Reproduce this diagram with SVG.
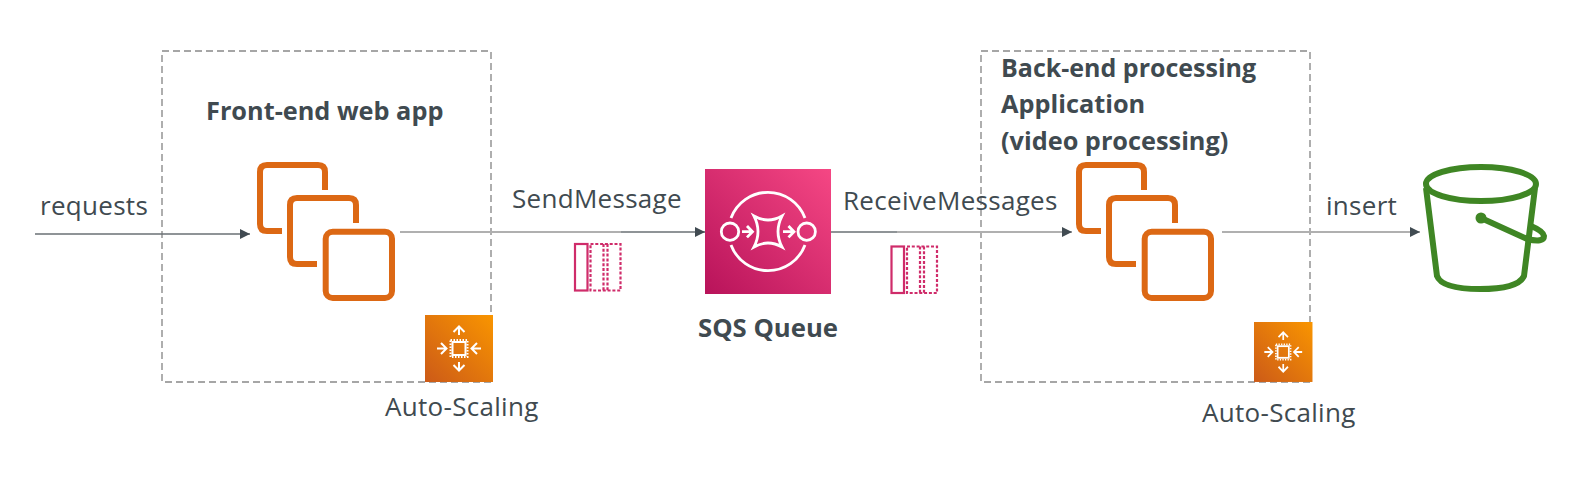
<svg xmlns="http://www.w3.org/2000/svg" width="1585" height="484" viewBox="0 0 1585 484">
<defs>
<linearGradient id="gp" x1="0" y1="1" x2="1" y2="0"><stop offset="0" stop-color="#b8135a"/><stop offset="1" stop-color="#f54784"/></linearGradient>
<linearGradient id="go" x1="0" y1="1" x2="1" y2="0"><stop offset="0" stop-color="#cc5a18"/><stop offset="1" stop-color="#f99500"/></linearGradient>
<marker id="arr" markerUnits="userSpaceOnUse" markerWidth="11" markerHeight="11" refX="10" refY="5" orient="auto"><path d="M0 0L10 5L0 10Z" fill="#414b52"/></marker>
<g id="inst" fill="none" stroke="#dc6814" stroke-width="6">
<path d="M325 190V172Q325 165 318 165H267Q260 165 260 172V224Q260 231 267 231H282"/>
<path d="M356 223V205Q356 198 349 198H297Q290 198 290 205V257Q290 264 297 264H317"/>
<rect x="325.700" y="231.700" width="66.300" height="66.300" rx="7"/>
</g>
<g id="as">
<rect x="0" y="0" width="68" height="67" fill="url(#go)"/>
<g fill="none" stroke="#fff" stroke-width="2">
<rect x="27.500" y="27" width="13" height="13"/>
<rect x="25.500" y="25" width="17" height="17" stroke-dasharray="1.500 1.500"/>
<path d="M34 20V12M28.500 17L34 11.500L39.500 17M34 47V55M28.500 50L34 55.500L39.500 50M12 33.500H21M16 28L21.500 33.500L16 39M56 33.500H47M52 28L46.500 33.500L52 39"/>
</g>
</g>
<g id="msg" fill="none" stroke="#cf2c6a" stroke-width="2.200">
<rect x="1" y="1" width="12.500" height="46.500"/>
<rect x="16.500" y="1" width="30" height="46.500" stroke-dasharray="3 1.800"/>
<path d="M29.500 1V47.500M33.500 1V47.500" stroke-dasharray="3 1.800"/>
</g>
</defs>
<style>
text{font-family:"Open Sans","Noto Sans","DejaVu Sans",sans-serif;font-size:26px;letter-spacing:.3px;fill:#404a50}
.b{font-weight:700;font-size:25.300px;letter-spacing:0}
.box{fill:none;stroke:#a6a6a6;stroke-width:1.800;stroke-dasharray:7 4}
.c{fill:none;stroke:#6a7074;stroke-width:1.300}
.l{fill:none;stroke:#b0b0b0;stroke-width:2}
.a{marker-end:url(#arr)}
</style>
<g id="box-frontend"><rect class="box" x="162" y="51" width="329" height="331"/></g>
<g id="box-backend"><rect class="box" x="981" y="51" width="329" height="331"/></g>
<g id="connectors">
<path class="c a" d="M35 234H250"/>
<path class="l" d="M400 232H621"/>
<path class="c a" d="M621 232H705"/>
<path class="c" d="M831 232H897"/>
<path class="l a" d="M897 232H1072"/>
<path class="l a" d="M1222 232H1420"/>
</g>
<g id="node-frontend"><use href="#inst"/><text x="206" y="120" class="b">Front-end web app</text></g>
<g id="node-asg1"><use href="#as" x="425" y="315"/><text x="385" y="416">Auto-Scaling</text></g>
<g id="node-msg1"><use href="#msg" x="574" y="243"/></g>
<g id="node-sqs"><rect x="705" y="169" width="126" height="125" fill="url(#gp)"/>
<g fill="none" stroke="#fff" stroke-width="2.800">
<path d="M731 218A39.500 39.500 0 0 1 805 218M731 245A39.500 39.500 0 0 0 805 245"/>
<circle cx="730" cy="231.700" r="8.700"/><circle cx="806.700" cy="231.700" r="8.700"/>
<path d="M754 216Q768 224 782 216Q774 231.700 782 247Q768 239 754 247Q762 231.700 754 216Z"/>
<path d="M742 231.700H752M747 226L752.500 231.700L747 237.400M783 231.700H793M788.500 226L794 231.700L788.500 237.400"/>
</g><text x="698" y="337" class="b" style="font-size:25.700px">SQS Queue</text></g>
<g id="node-msg2"><use href="#msg" x="890.500" y="245.500"/></g>
<g id="node-backend"><use href="#inst" x="819"/><text x="1001" y="77" class="b" style="font-size:25px">Back-end processing</text><text x="1001" y="113" class="b">Application</text><text x="1001" y="150" class="b">(video processing)</text></g>
<g id="node-asg2"><use href="#as" transform="translate(1254 322) scale(.86 .895)"/><text x="1202" y="422">Auto-Scaling</text></g>
<g id="node-s3"><g fill="none" stroke="#3f8624" stroke-width="6">
<ellipse cx="1481" cy="184" rx="55" ry="17"/>
<path d="M1426 188L1437 276Q1442 289 1480 289Q1518 289 1524 276L1535 188"/>
<path d="M1481 218L1527 239Q1544 243 1544 236Q1543 231 1531 226"/></g>
<circle cx="1481" cy="218" r="5.500" fill="#3f8624"/></g>
<text x="40" y="215">requests</text>
<text x="512" y="208">SendMessage</text>
<text x="843" y="210">ReceiveMessages</text>
<text x="1326" y="215">insert</text>
</svg>
